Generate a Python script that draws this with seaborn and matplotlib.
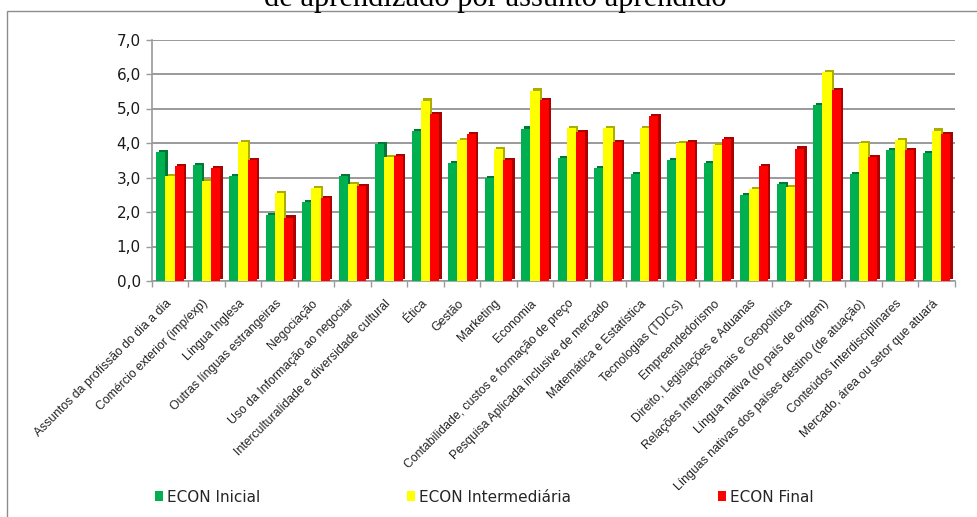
import matplotlib
matplotlib.use("Agg")
import matplotlib.pyplot as plt
import matplotlib.patheffects as pe
from matplotlib.patches import Patch, Rectangle
from matplotlib.ticker import FuncFormatter, FixedLocator
import numpy as np
import pandas as pd
import seaborn as sns

# ---- data ----
assuntos = [
    "Assuntos da profissão do dia a dia",
    "Comércio exterior (imp/exp)",
    "Língua Inglesa",
    "Outras línguas estrangeiras",
    "Negociação",
    "Uso da Informação ao negociar",
    "Interculturalidade e diversidade cultural",
    "Ética",
    "Gestão",
    "Marketing",
    "Economia",
    "Contabilidade, custos e formação de preço",
    "Pesquisa Aplicada inclusive de mercado",
    "Matemática e Estatística",
    "Tecnologias (TDICs)",
    "Empreendedorismo",
    "Direito, Legislações e Aduanas",
    "Relações Internacionais e Geopolítica",
    "Língua nativa (do país de origem)",
    "Línguas nativas dos países destino (de atuação)",
    "Conteúdos Interdisciplinares",
    "Mercado, área ou setor que atuará",
]
econ_inicial = [3.75, 3.36, 3.05, 1.92, 2.29, 3.05, 3.96, 4.34, 3.43, 2.98, 4.42,
                3.57, 3.27, 3.11, 3.50, 3.43, 2.50, 2.81, 5.10, 3.11, 3.79, 3.72]
econ_intermediaria = [3.03, 2.90, 4.03, 2.55, 2.69, 2.82, 3.60, 5.23, 4.09, 3.82, 5.52,
                      4.43, 4.43, 4.43, 4.00, 3.93, 2.67, 2.73, 6.07, 4.00, 4.09, 4.36]
econ_final = [3.33, 3.27, 3.50, 1.84, 2.41, 2.75, 3.61, 4.84, 4.26, 3.50, 5.24,
              4.31, 4.03, 4.77, 4.02, 4.12, 3.32, 3.84, 5.54, 3.60, 3.79, 4.26]
series = ["ECON Inicial", "ECON Intermediária", "ECON Final"]
colors = ["#00B050", "#FFFF00", "#FF0000"]
y_ticks = [0, 1, 2, 3, 4, 5, 6, 7]
titulo = "de aprendizado por assunto aprendido"

df = pd.DataFrame({
    "assunto": assuntos * 3,
    "serie": np.repeat(series, len(assuntos)),
    "valor": econ_inicial + econ_intermediaria + econ_final,
})

# ---- figure ----
sns.set_theme(style="white")
plt.rcParams["font.family"] = ["DejaVu Sans"]

W, H = 977, 517
fig = plt.figure(figsize=(W / 100, H / 100), dpi=100)
ax = fig.add_axes([151.75 / W, 1 - 281 / H, 803 / W, (281 - 39.5) / H])

sns.barplot(data=df, x="assunto", y="valor", hue="serie", order=assuntos,
            hue_order=series, palette=colors, width=0.75, gap=0,
            saturation=1, errorbar=None, legend=False, ax=ax, zorder=3)

# depth effect on the columns
for p in ax.patches:
    p.set_linewidth(0)
    p.set_path_effects([
        pe.SimplePatchShadow(offset=(1.7, 1.5), shadow_rgbFace=None, alpha=1.0, rho=0.68),
        pe.Normal(),
    ])

ax.set_xlim(-0.5, len(assuntos) - 0.5)
ax.set_ylim(0, 7)
ax.set_yticks(y_ticks)
ax.yaxis.set_major_formatter(FuncFormatter(lambda v, _: f"{v:.1f}".replace(".", ",")))
ax.grid(axis="y", color="#9a9a9a", linewidth=1.4, zorder=0)
ax.set_axisbelow(True)
ax.set_xlabel("")
ax.set_ylabel("")

for s in ["top", "right"]:
    ax.spines[s].set_visible(False)
for s in ["left", "bottom"]:
    ax.spines[s].set_color("#9a9a9a")
    ax.spines[s].set_linewidth(1.2)

ax.tick_params(axis="y", which="major", left=True, length=4, width=1, color="#9a9a9a",
               labelsize=11, labelcolor="#1a1a1a", pad=4)
ax.set_xticks(range(len(assuntos)))
ax.set_xticklabels(assuntos, rotation=45, ha="right", va="center",
                   rotation_mode="anchor", fontsize=8.8,
                   family=["Liberation Sans Narrow", "Liberation Sans"], color="#222222")
ax.tick_params(axis="x", which="major", bottom=False, pad=9)
ax.xaxis.set_minor_locator(FixedLocator(np.arange(-0.5, len(assuntos), 1.0)))
ax.tick_params(axis="x", which="minor", bottom=True, length=4, width=1, color="#9a9a9a")

# outer chart frame (left and top edges)
fig.add_artist(Rectangle((7 / W, -0.05), 1.5, 1 - 11 / H + 0.05, transform=fig.transFigure,
                         fill=False, edgecolor="#8c8c8c", linewidth=1.0))

# title (partially above the page edge)
fig.text(495 / W, 1 - 6 / H, titulo, ha="center", va="baseline",
         fontsize=22, family=["Liberation Serif"], color="black")

handles = [Patch(facecolor=c, edgecolor="none") for c in colors]
fig.legend(handles, series, loc="center left", bbox_to_anchor=(155 / W, 1 - 497 / H),
           ncol=3, frameon=False, fontsize=11, handlelength=0.5, handleheight=0.6,
           handletextpad=0.3, columnspacing=9.6, borderpad=0, borderaxespad=0)

fig.savefig("out.png", dpi=100)
